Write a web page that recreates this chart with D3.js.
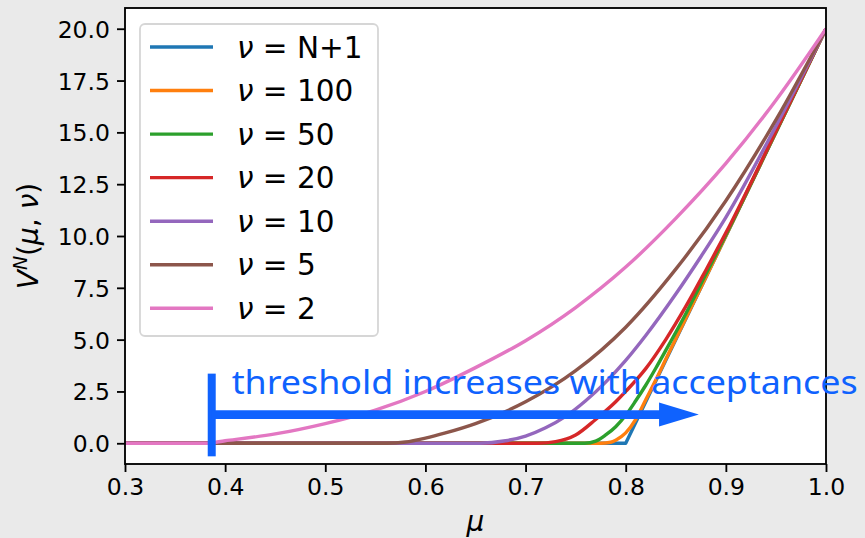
<!DOCTYPE html>
<html>
<head>
<meta charset="utf-8">
<script src="https://cdn.jsdelivr.net/npm/d3@7"></script>
<style>
  html, body { margin: 0; padding: 0; background: #eaeaea; }
  svg { display: block; }
  text { font-family: "DejaVu Sans", sans-serif; }
</style>
</head>
<body>
<svg id="chart" width="865" height="538"></svg>
<script>
// ---------------- data ----------------
const seriesNames = ["N+1", "100", "50", "20", "10", "5", "2"];
const seriesColors = ["#1f77b4", "#ff7f0e", "#2ca02c", "#d62728", "#9467bd", "#8c564b", "#e377c2"];

const muNN1 = [0.3, 0.8, 1.0];
const vNN1  = [0, 0, 20];

const mu100 = [0.3, 0.775, 0.785, 0.79, 0.80, 0.81, 0.82, 0.83, 0.84, 0.86, 0.88, 0.90, 0.95, 1.0];
const v100  = [0, 0, 0.05, 0.15, 0.5, 1.15, 2.1, 3.05, 4.05, 6.02, 8.0, 10.0, 15.0, 20.0];

const mu50 = [0.3, 0.759, 0.77, 0.78, 0.79, 0.80, 0.81, 0.82, 0.83, 0.84, 0.86, 0.88, 0.90, 0.95, 1.0];
const v50  = [0, 0, 0.1, 0.4, 0.8, 1.35, 2.05, 2.8, 3.62, 4.48, 6.25, 8.15, 10.05, 15.02, 20.0];

const mu20 = [0.3, 0.712, 0.73, 0.75, 0.77, 0.79, 0.80, 0.82, 0.84, 0.86, 0.88, 0.90, 0.95, 1.0];
const v20  = [0, 0, 0.08, 0.4, 1.15, 2.0, 2.5, 3.6, 5.0, 6.6, 8.35, 10.15, 15.05, 20.0];

const mu10 = [0.3, 0.654, 0.68, 0.70, 0.72, 0.74, 0.76, 0.78, 0.80, 0.82, 0.85, 0.875, 0.90, 0.95, 1.0];
const v10  = [0, 0, 0.12, 0.35, 0.75, 1.3, 2.05, 2.95, 4.0, 5.2, 7.2, 9.0, 10.9, 15.3, 20.0];

const mu5 = [0.3, 0.561, 0.58, 0.60, 0.62, 0.65, 0.70, 0.75, 0.80, 0.85, 0.90, 0.95, 1.0];
const v5  = [0, 0, 0.06, 0.25, 0.5, 0.95, 2.0, 3.5, 5.6, 8.4, 11.7, 15.6, 20.0];

const mu2 = [0.3, 0.38, 0.40, 0.45, 0.50, 0.55, 0.60, 0.65, 0.70, 0.75, 0.80, 0.85, 0.90, 0.95, 1.0];
const v2  = [0, 0, 0.12, 0.45, 0.95, 1.6, 2.5, 3.65, 4.95, 6.55, 8.5, 10.85, 13.5, 16.55, 20.0];

const seriesMu = [muNN1, mu100, mu50, mu20, mu10, mu5, mu2];
const seriesV  = [vNN1, v100, v50, v20, v10, v5, v2];

const xTicks = [0.3, 0.4, 0.5, 0.6, 0.7, 0.8, 0.9, 1.0];
const yTicks = [0, 2.5, 5, 7.5, 10, 12.5, 15, 17.5, 20];

const annotationText = "threshold increases with acceptances";
// arrow: start bar at mu, tip, y-level, bar extent
const arrowStartMu = 0.3866, arrowTipMu = 0.873, arrowHeadBaseMu = 0.8333;
const arrowY = 1.385, arrowBarTop = 3.36, arrowBarBottom = -0.63, arrowHeadHalf = 0.58;
const textMu = 0.4065, textV = 2.4;

// ---------------- layout ----------------
const svg = d3.select("#chart");
const L = 125, R = 826, T = 8, B = 464;
const x = d3.scaleLinear().domain([0.3, 1.0]).range([L, R]);
const y = d3.scaleLinear().domain([-1, 21]).range([B, T]);

svg.append("rect").attr("width", 865).attr("height", 538).attr("fill", "#eaeaea");
svg.append("rect").attr("x", L).attr("y", T).attr("width", R - L).attr("height", B - T).attr("fill", "#ffffff");

svg.append("defs").append("clipPath").attr("id", "clip")
  .append("rect").attr("x", L).attr("y", T).attr("width", R - L).attr("height", B - T);

// curves
const gLines = svg.append("g").attr("clip-path", "url(#clip)");
seriesNames.forEach((name, i) => {
  const pts = seriesMu[i].map((m, j) => [m, seriesV[i][j]]);
  const line = d3.line()
    .x(d => x(d[0])).y(d => y(d[1]))
    .curve(i === 0 ? d3.curveLinear : d3.curveMonotoneX);
  gLines.append("path")
    .attr("d", line(pts))
    .attr("fill", "none")
    .attr("stroke", seriesColors[i])
    .attr("stroke-width", 3.4)
    .attr("stroke-linejoin", "round");
});

// axes
const xAxis = d3.axisBottom(x).tickValues(xTicks).tickFormat(d3.format(".1f")).tickSize(8).tickPadding(6);
const yAxis = d3.axisLeft(y).tickValues(yTicks).tickFormat(d3.format(".1f")).tickSize(8).tickPadding(7);

const gx = svg.append("g").attr("transform", `translate(0,${B})`).call(xAxis);
const gy = svg.append("g").attr("transform", `translate(${L},0)`).call(yAxis);
[gx, gy].forEach(g => {
  g.select(".domain").remove();
  g.selectAll(".tick line").attr("stroke", "#000").attr("stroke-width", 1.85);
  g.selectAll(".tick text").attr("fill", "#000").style("font-size", "23.5px")
    .style("font-family", "DejaVu Sans, sans-serif");
});
gy.selectAll(".tick text").attr("dy", "0.36em");

// spines
svg.append("rect").attr("x", L).attr("y", T).attr("width", R - L).attr("height", B - T)
  .attr("fill", "none").attr("stroke", "#000").attr("stroke-width", 1.85);

// axis labels
svg.append("text").attr("x", (L + R) / 2).attr("y", 531).attr("text-anchor", "middle")
  .style("font-size", "28px").style("font-style", "italic").text("μ");

const yl = svg.append("text")
  .attr("transform", `translate(38,${(T + B) / 2}) rotate(-90)`)
  .attr("text-anchor", "middle").style("font-size", "28px");
yl.append("tspan").style("font-style", "italic").text("V");
yl.append("tspan").style("font-style", "italic").style("font-size", "19px").attr("dy", "-11").text("N");
yl.append("tspan").attr("dy", "11").text("(");
yl.append("tspan").style("font-style", "italic").text("μ");
yl.append("tspan").text(", ");
yl.append("tspan").style("font-style", "italic").text("ν");
yl.append("tspan").text(")");

// legend
const lg = svg.append("g");
lg.append("rect").attr("x", 140).attr("y", 24).attr("width", 238).attr("height", 312)
  .attr("rx", 5).attr("fill", "#ffffff").attr("fill-opacity", 0.8)
  .attr("stroke", "#d6d6d6").attr("stroke-width", 1.8);
seriesNames.forEach((name, i) => {
  const ly = 47 + i * 43.55;
  lg.append("line").attr("x1", 150).attr("x2", 213).attr("y1", ly).attr("y2", ly)
    .attr("stroke", seriesColors[i]).attr("stroke-width", 3.4);
  const t = lg.append("text").attr("x", 237).attr("y", ly + 10.5).style("font-size", "29.5px").attr("fill", "#000");
  t.append("tspan").style("font-style", "italic").text("ν");
  t.append("tspan").text(" = " + name);
});

// annotation arrow
const blue = "#0f62fe";
const ga = svg.append("g");
ga.append("line").attr("x1", x(arrowStartMu)).attr("x2", x(arrowStartMu))
  .attr("y1", y(arrowBarTop)).attr("y2", y(arrowBarBottom))
  .attr("stroke", blue).attr("stroke-width", 8);
ga.append("line").attr("x1", x(arrowStartMu)).attr("x2", x(arrowHeadBaseMu) + 1)
  .attr("y1", y(arrowY)).attr("y2", y(arrowY))
  .attr("stroke", blue).attr("stroke-width", 8.7);
ga.append("path")
  .attr("d", `M${x(arrowHeadBaseMu)},${y(arrowY + arrowHeadHalf)} L${x(arrowTipMu)},${y(arrowY)} L${x(arrowHeadBaseMu)},${y(arrowY - arrowHeadHalf)} Z`)
  .attr("fill", blue);
ga.append("text").attr("x", x(textMu)).attr("y", y(textV))
  .style("font-family", "'Noto Sans', 'Open Sans', sans-serif").style("font-size", "33px")
  .attr("fill", blue)
  .attr("textLength", 626).attr("lengthAdjust", "spacingAndGlyphs")
  .text(annotationText);
</script>
</body>
</html>
